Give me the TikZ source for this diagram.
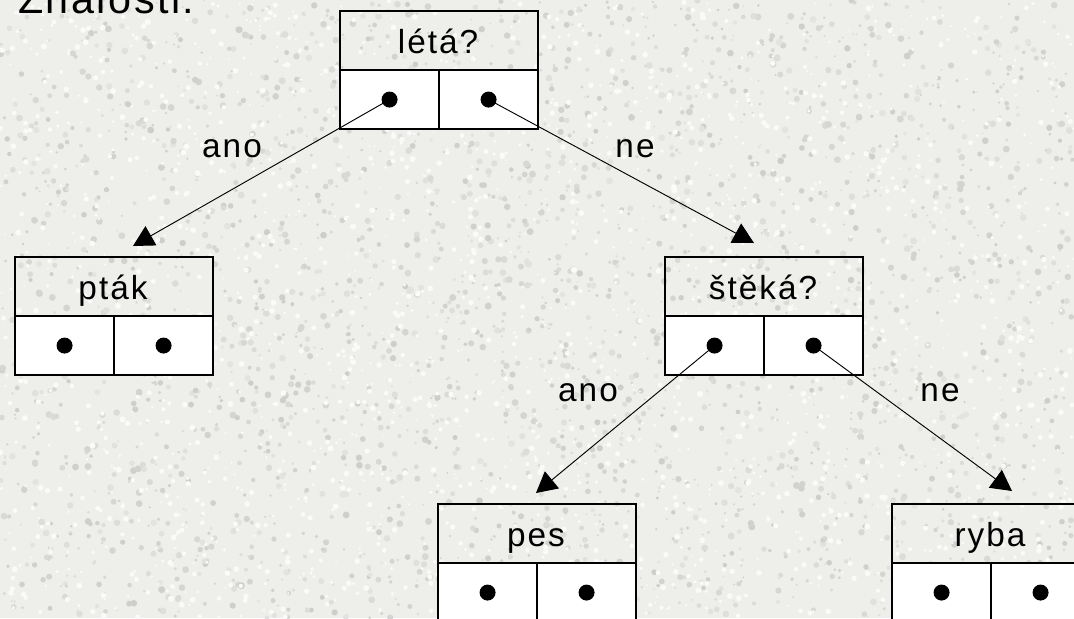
\documentclass[tikz,border=0pt]{standalone}
\usepackage{fontspec}
\setmainfont{Liberation Sans}[LetterSpace=6]
\usetikzlibrary{arrows.meta}
\definecolor{paper}{RGB}{238,238,235}
\definecolor{speck}{RGB}{196,196,192}
\tikzset{
  head/.style={draw=black, line width=1.6pt, minimum width=148.5pt, minimum height=44.25pt,
    inner sep=0pt},
  cell/.style={draw=black, fill=white, line width=1.6pt, minimum width=74.25pt,
    minimum height=44.25pt, inner sep=0pt},
  dot/.style={circle, fill=black, minimum size=12pt, inner sep=0pt},
  link/.style={draw=black, line width=0.7pt, -{Triangle[length=15.5pt,width=16.5pt]}},
  answer/.style={font=\fontsize{25}{29}\selectfont, inner sep=0pt, anchor=base},
}
\newcommand{\recbox}[4]{% name, top-left x, top-left y, heading
  \node[head, anchor=north west] (#1) at (#2,#3) {};
  \node[cell, anchor=north west] (#1l) at (#2,#3+59) {};
  \node[cell, anchor=north west] (#1r) at (#2+99,#3+59) {};
  \node[dot] (#1ld) at (#1l.center) {};
  \node[dot] (#1rd) at (#1r.center) {};
  \node[answer] (#1t) at (#2+99,#3+43.5) {#4};
}
\begin{document}
\begin{tikzpicture}[x=0.75pt, y=-0.75pt]
  \useasboundingbox (0,0) rectangle (1074,618);
  \clip (0,0) rectangle (1074,618);
  \fill[paper] (0,0) rectangle (1074,618);
  % mottled paper texture: grey and white flecks
  \pgfmathsetseed{7}
  \foreach \i in {1,...,3000}{
    \pgfmathsetmacro{\px}{rnd*1074}
    \pgfmathsetmacro{\py}{rnd*618}
    \pgfmathsetmacro{\pr}{1+rnd*2.5}
    \pgfmathtruncatemacro{\pc}{25+rnd*55}
    \fill[speck!\pc!paper] (\px,\py) circle[radius=\pr];
  }
  \foreach \i in {1,...,2000}{
    \pgfmathsetmacro{\px}{rnd*1074}
    \pgfmathsetmacro{\py}{rnd*618}
    \pgfmathsetmacro{\pr}{1+rnd*2}
    \fill[white!70!paper] (\px,\py) circle[radius=\pr];
  }

  \node[anchor=base west, inner sep=0pt, font=\fontsize{31}{36}\selectfont] (title) at (18,13) {Znalosti:};

  % knowledge tree
  \recbox{q1}{339}{10}{létá?}
  \recbox{a1}{14}{256}{pták}
  \recbox{q2}{664}{256}{štěká?}
  \recbox{a2}{437}{503}{pes}
  \recbox{a3}{891}{503}{ryba}

  \coordinate (t1) at (133,246);
  \coordinate (t2) at (754,243);
  \coordinate (t3) at (536,493);
  \coordinate (t4) at (1012,491);

  \draw[link] (q1ld.center) -- (t1);
  \draw[link] (q1rd.center) -- (t2);
  \draw[link] (q2ld.center) -- (t3);
  \draw[link] (q2rd.center) -- (t4);

  \node[answer] (l1) at (232,157) {ano};
  \node[answer] (l2) at (635,157) {ne};
  \node[answer] (l3) at (588,401) {ano};
  \node[answer] (l4) at (940,401) {ne};
\end{tikzpicture}
\end{document}
